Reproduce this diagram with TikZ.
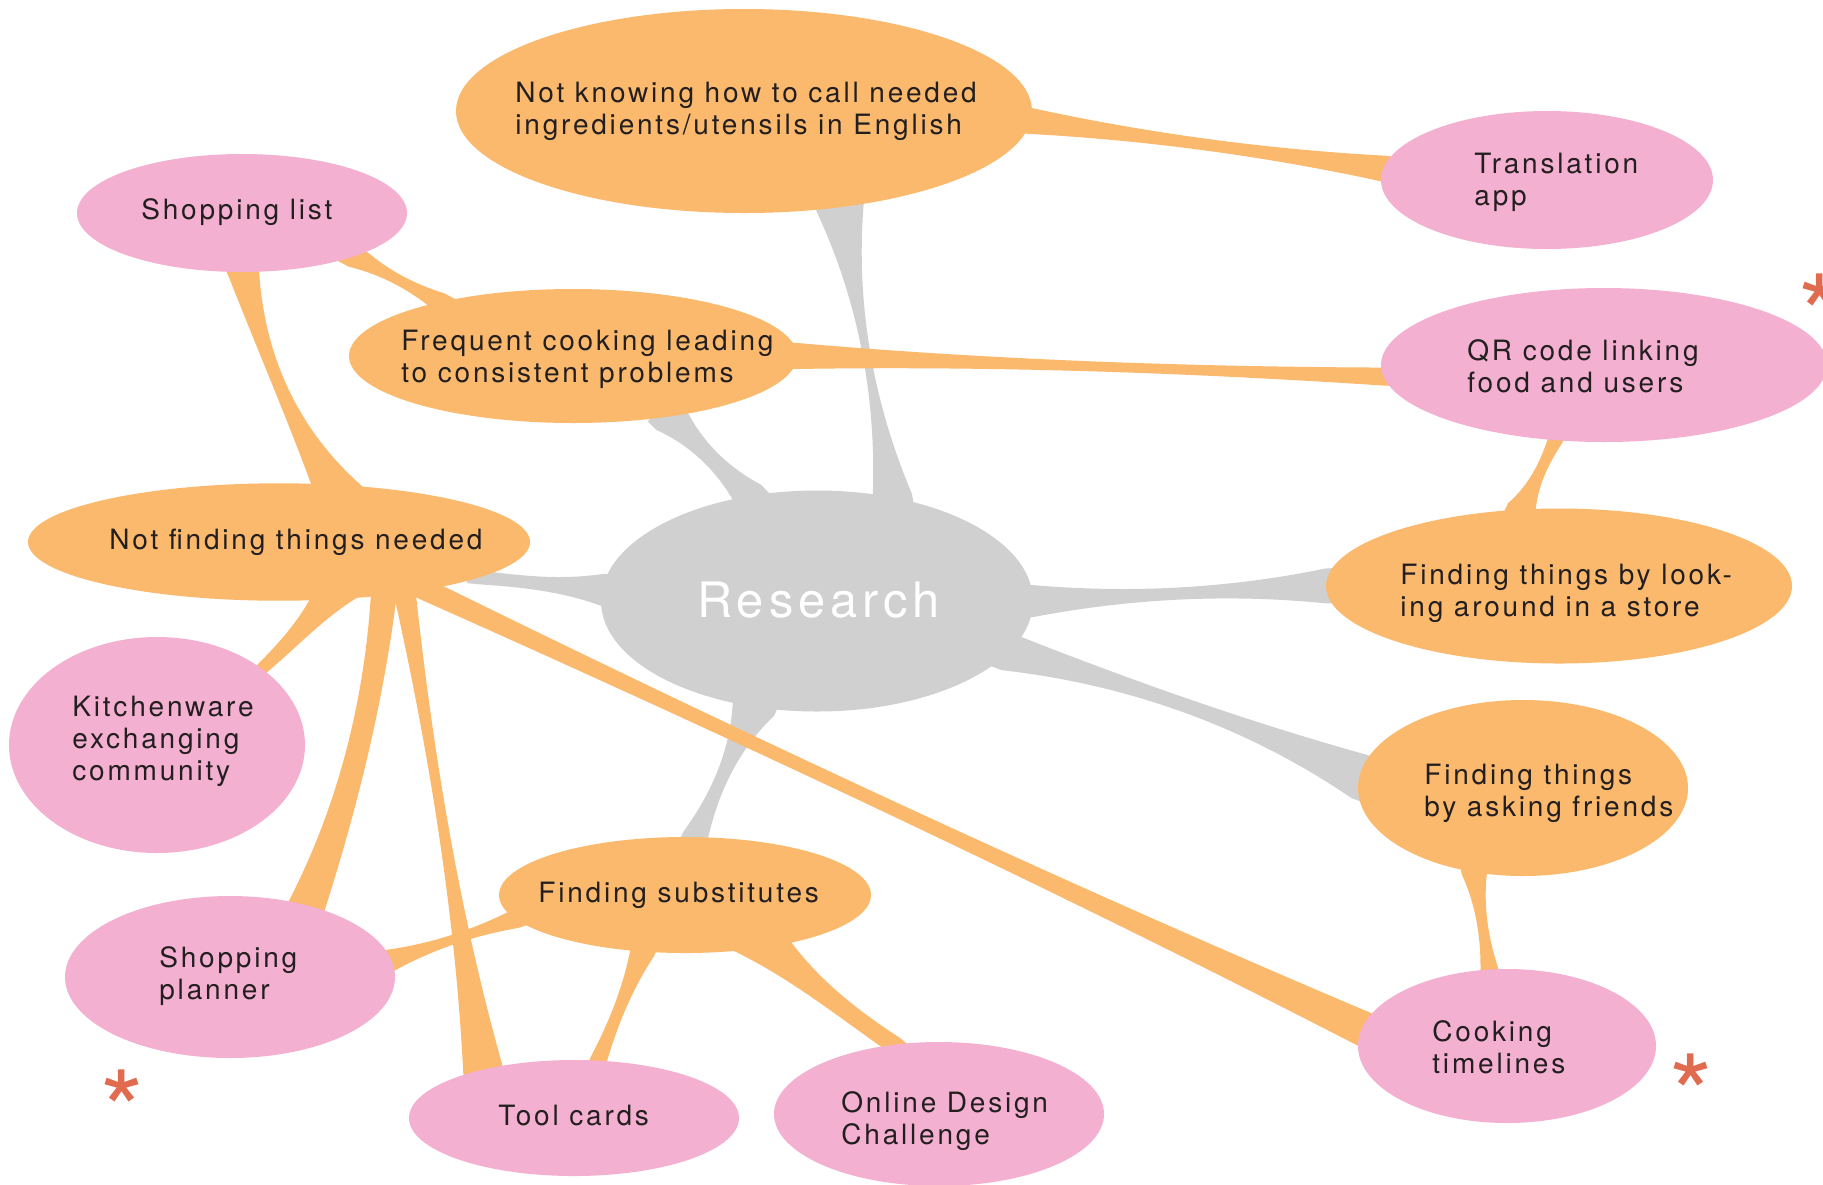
\documentclass[tikz,border=0pt]{standalone}
\usepackage{fontspec}
\newfontfamily\lbl[LetterSpace=10]{TeX Gyre Heros}
\newfontfamily\rfont[LetterSpace=10]{TeX Gyre Heros}
\newfontfamily\astfont{TeX Gyre Heros}
\usetikzlibrary{calc,shapes.geometric}
\definecolor{bo}{HTML}{FBB96E}
\definecolor{bp}{HTML}{F4B0D0}
\definecolor{bg}{HTML}{D0D0D0}
\definecolor{tx}{HTML}{231F20}
\definecolor{astc}{HTML}{E06B4F}
\pgfdeclarelayer{back}
\pgfsetlayers{back,main}
% #1 colour, #2 from, #3 to, #4 width at from (px), #5 width at to (px), #6 bend (px), #7 middle extra (px)
\newcommand\branch[7]{%
 \pgfmathsetmacro\hwA{#4*0.25}%
 \pgfmathsetmacro\hwB{#5*0.25}%
 \pgfmathsetmacro\bpo{(#6+#7/2)*0.5}%
 \pgfmathsetmacro\bmo{(#6-#7/2)*0.5}%
 \path #2 coordinate (zA) #3 coordinate (zB);
 \coordinate (zax) at ($(zA)!-6pt!(zB)$);
 \coordinate (zbx) at ($(zB)!-6pt!(zA)$);
 \coordinate (za1) at ($(zA)!\hwA pt!90:(zB)$);
 \coordinate (za2) at ($(zA)!\hwA pt!-90:(zB)$);
 \coordinate (za1e) at ($(zax)!\hwA pt!90:(zB)$);
 \coordinate (za2e) at ($(zax)!\hwA pt!-90:(zB)$);
 \coordinate (zb1) at ($(zB)!\hwB pt!-90:(zA)$);
 \coordinate (zb2) at ($(zB)!\hwB pt!90:(zA)$);
 \coordinate (zb1e) at ($(zbx)!\hwB pt!-90:(zA)$);
 \coordinate (zb2e) at ($(zbx)!\hwB pt!90:(zA)$);
 \coordinate (zm1) at ($(zA)!0.33!(zB)$);
 \coordinate (zm2) at ($(zA)!0.67!(zB)$);
 \coordinate (zc11) at ($(zm1)!\bpo pt!90:(zB)$);
 \coordinate (zc12) at ($(zm2)!\bpo pt!90:(zB)$);
 \coordinate (zc21) at ($(zm1)!\bmo pt!90:(zB)$);
 \coordinate (zc22) at ($(zm2)!\bmo pt!90:(zB)$);
 \begin{pgfonlayer}{back}
 \fill[#1] (za1e) -- (za1) .. controls (zc11) and (zc12) .. (zb1) -- (zb1e) -- (zb2e) -- (zb2) .. controls (zc22) and (zc21) .. (za2) -- (za2e) -- cycle;
 \end{pgfonlayer}
}
\tikzset{
 ell/.style={ellipse, inner sep=0pt, outer sep=0pt, draw=none},
 onode/.style={ell, fill=bo},
 pnode/.style={ell, fill=bp},
 txt/.style={anchor=west, align=left, inner sep=0pt, text=tx, font=\lbl\fontsize{14}{16}\selectfont},
 astx/.style={anchor=base west, inner sep=0pt, text=astc, font=\astfont\fontsize{56}{60}\selectfont},
}
\begin{document}
\begin{tikzpicture}[x=0.5pt,y=-0.5pt]
\useasboundingbox (0,0) rectangle (1823,1184);
\begin{pgfonlayer}{back}
\fill[white] (0,0) rectangle (1823,1184);
\end{pgfonlayer}
\clip (0,0) rectangle (1823,1184);
% nodes
\node[ell, fill=bg, minimum width=216pt, minimum height=110.5pt] (r) at (817,601) {};
\node[onode, minimum width=288pt, minimum height=102pt] (nk) at (744,111) {};
\node[pnode, minimum width=166pt, minimum height=69pt] (ta) at (1547,180) {};
\node[pnode, minimum width=165pt, minimum height=59pt] (sl) at (242,213) {};
\node[onode, minimum width=224pt, minimum height=67pt] (fc) at (573,356) {};
\node[pnode, minimum width=223pt, minimum height=77pt] (qr) at (1604,365) {};
\node[onode, minimum width=251pt, minimum height=58.7pt] (nf) at (279,542) {};
\node[onode, minimum width=233pt, minimum height=77.5pt] (fl) at (1559,586) {};
\node[pnode, minimum width=148pt, minimum height=108pt] (kw) at (157,745) {};
\node[onode, minimum width=165pt, minimum height=88pt] (ff) at (1523,788) {};
\node[onode, minimum width=186pt, minimum height=58pt] (fs) at (685,895) {};
\node[pnode, minimum width=165pt, minimum height=81pt] (sp) at (230,977) {};
\node[pnode, minimum width=165pt, minimum height=58pt] (tc) at (574,1118) {};
\node[pnode, minimum width=165pt, minimum height=72pt] (odc) at (939,1114) {};
\node[pnode, minimum width=149pt, minimum height=77pt] (ct) at (1507,1046) {};
% texts
\node[anchor=base west, inner sep=0pt, text=white, font=\rfont\fontsize{24.4}{28}\selectfont] (r-t) at (697,617) {Research};
\node[txt] (nk-t) at (515,111) {Not knowing how to call needed\\ingredients/utensils in English};
\node[txt] (ta-t) at (1474,182) {Translation\\app};
\node[txt, anchor=base west] (sl-t) at (141,219) {Shopping list};
\node[txt] (fc-t) at (401,359) {Frequent cooking leading\\to consistent problems};
\node[txt] (qr-t) at (1467,366) {QR code linking\\food and users};
\node[txt, anchor=base west] (nf-t) at (109,549) {Not finding things needed};
\node[txt] (fl-t) at (1400,593) {Finding things by look-\\ing around in a store};
\node[txt] (kw-t) at (72,741) {Kitchenware\\exchanging\\community};
\node[txt] (ff-t) at (1424,793) {Finding things\\by asking friends};
\node[txt, anchor=base west] (fs-t) at (538,902) {Finding substitutes};
\node[txt] (sp-t) at (159,976) {Shopping\\planner};
\node[txt, anchor=base west] (tc-t) at (498,1125) {Tool cards};
\node[txt] (odc-t) at (841,1121) {Online Design\\Challenge};
\node[txt] (ct-t) at (1432,1047) {Cooking\\timelines};
% asterisks
\node[astx] (st1) at (1798,355) {*};
\node[astx] (st2) at (100,1151) {*};
\node[astx] (st3) at (1669,1135) {*};
% grey branches
\branch{bg}{(r.54)}{(nk.-45)}{40}{48}{0}{-4}
\branch{bg}{(r.123)}{(fc.-32)}{33}{38}{0}{10}
\branch{bg}{(r.177)}{(nf.-10)}{32}{14}{0}{11}
\branch{bg}{(r.0)}{(fl.180)}{32}{35}{0}{5}
\branch{bg}{(r.-15)}{(ff.176)}{38}{46}{12}{5}
\branch{bg}{(r.239)}{(fs.80)}{45}{26}{0}{6}
% orange branches
\branch{bo}{(nk.-2)}{(ta.176)}{26}{26}{0}{7}
\branch{bo}{(sl.-21)}{(fc.158)}{24}{20}{0}{7}
\branch{bo}{(fc.0)}{(qr.183)}{26}{18}{0}{6}
\branch{bo}{(qr.237)}{(fl.116)}{15}{30}{0}{8}
\branch{bo}{(sl.-88)}{($(nf.46)+(9,15)$)}{32}{50}{-17}{4}
\branch{bo}{($(nf.center)+(66,34)$)}{(kw.36)}{52}{12}{4}{16}
\branch{bo}{(nf.-27)}{(sp.43)}{26}{37}{16}{19}
\branch{bo}{(nf.-22)}{(tc.152)}{22}{40}{0}{4}
\branch{bo}{(nf.-18)}{(ct.173)}{22}{35}{0}{9}
\branch{bo}{(ff.240)}{(ct.103)}{26}{18}{0}{7}
\branch{bo}{(sp.6)}{(fs.188)}{22}{19}{0}{6}
\branch{bo}{(fs.233)}{(tc.67)}{25}{17}{0}{9}
\branch{bo}{($(fs.center)+(60,28)$)}{(odc.123)}{62}{18}{-6}{16}
\end{tikzpicture}
\end{document}
